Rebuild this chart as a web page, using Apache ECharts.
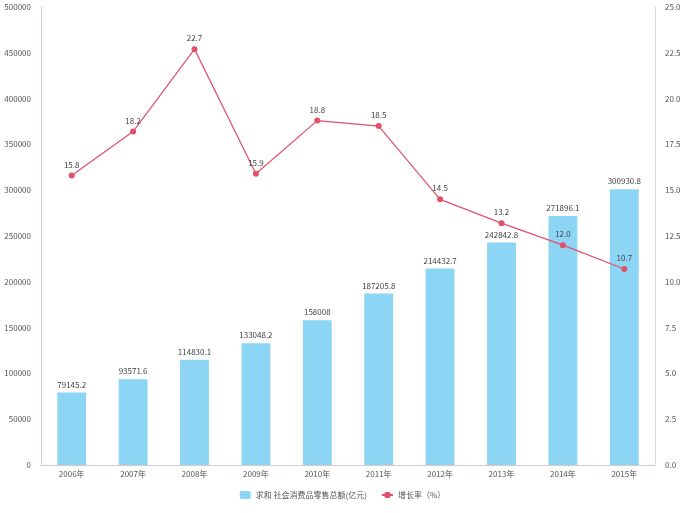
<!DOCTYPE html>
<html><head><meta charset="utf-8">
<script src="https://cdn.jsdelivr.net/npm/echarts@6/dist/echarts.min.js"></script>
<style>html,body{margin:0;padding:0;background:#fff}#c{width:685px;height:513px}</style>
</head><body><div id="c"></div>
<script>
const categories = ['2006年','2007年','2008年','2009年','2010年','2011年','2012年','2013年','2014年','2015年'];
const salesValues = [79145.2, 93571.6, 114830.1, 133048.2, 158008, 187205.8, 214432.7, 242842.8, 271896.1, 300930.8];
const growthValues = [15.8, 18.2, 22.7, 15.9, 18.8, 18.5, 14.5, 13.2, 12.0, 10.7];
const salesName = '求和 社会消费品零售总额(亿元)';
const growthName = '增长率（%）';

const chart = echarts.init(document.getElementById('c'));
const font = '"Noto Sans CJK SC", "Noto Sans", sans-serif';
chart.setOption({
  animation: false,
  textStyle: {fontFamily: font},
  grid: {left: 41, right: 30, top: 7, bottom: 48},
  legend: {
    bottom: 9, left: 'center', itemWidth: 11, itemHeight: 8, itemGap: 14,
    textStyle: {fontSize: 8, color: '#555', fontFamily: font},
    data: [{name: salesName, icon: 'roundRect'}, {name: growthName}]
  },
  xAxis: {
    type: 'category', data: categories,
    axisLine: {lineStyle: {color: '#d8c8c8'}},
    axisTick: {show: false},
    axisLabel: {fontSize: 8, color: '#555', margin: 5}
  },
  yAxis: [
    {type: 'value', min: 0, max: 500000, interval: 50000,
     axisLine: {show: true, lineStyle: {color: '#dcc8c8'}},
     axisTick: {show: false}, splitLine: {show: false},
     axisLabel: {fontSize: 8, color: '#555', margin: 10, formatter: v => String(v)}},
    {type: 'value', min: 0, max: 25, interval: 2.5,
     axisLine: {show: true, lineStyle: {color: '#d8d8d8'}},
     axisTick: {show: false}, splitLine: {show: false},
     axisLabel: {fontSize: 8, color: '#555', margin: 10, formatter: v => v.toFixed(1)}}
  ],
  series: [
    {name: salesName, type: 'bar', data: salesValues, barWidth: '47%',
     itemStyle: {color: '#8dd5f5'},
     label: {show: true, position: 'top', fontSize: 8, color: '#444', distance: 4}},
    {name: growthName, type: 'line', yAxisIndex: 1, data: growthValues,
     symbol: 'circle', symbolSize: 6,
     lineStyle: {color: '#e0506b', width: 1.2},
     itemStyle: {color: '#e0506b'},
     label: {show: true, position: 'top', fontSize: 8, color: '#444', distance: 4,
             formatter: p => p.value.toFixed(1)}}
  ]
});
</script></body></html>
